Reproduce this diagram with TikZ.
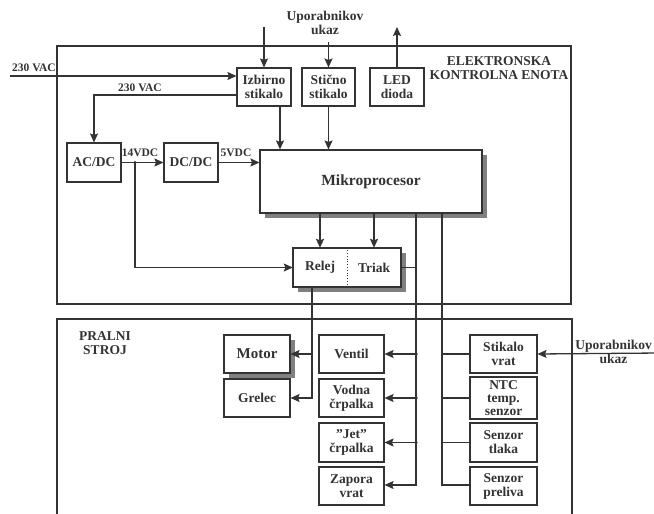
\documentclass[tikz,border=0pt]{standalone}
\usepackage{fontspec}
\setmainfont{Liberation Serif}
\usetikzlibrary{arrows.meta,shadows}
\definecolor{ink}{gray}{0.2}
\tikzset{
  lab/.style={font=\bfseries\fontsize{13.5}{14}\selectfont,text=ink,align=center,inner sep=0pt},
  small/.style={font=\bfseries\fontsize{11.5}{12}\selectfont,text=ink,inner sep=0pt},
  box/.style={lab,draw=ink,line width=1.1pt,fill=white,minimum width=#1,minimum height=38pt},
  box/.default=54pt,
  shd/.style={drop shadow={shadow xshift=5pt,shadow yshift=-5pt,fill=black!50,opacity=1}},
  wire/.style={draw=ink,line width=1.3pt},
  arr/.style={wire,-{Stealth[length=9pt,width=8pt,inset=1.5pt]}},
  frame/.style={draw=ink,line width=1.5pt},
  dot/.style={circle,fill=ink,inner sep=0pt,minimum size=3.5pt}
}
\begin{document}
\begin{tikzpicture}[x=1pt,y=-1pt]
\useasboundingbox (0,0) rectangle (654,514);
% frames
\draw[frame] (57,46) rectangle (571,304);
\draw[frame] (57,520) -- (57,319) -- (572,319) -- (572,520);
\node[lab] (elk) at (499,68) {ELEKTRONSKA\\KONTROLNA ENOTA};
\node[lab] (ps) at (105,343) {PRALNI\\STROJ};
% top boxes
\node[box] (izb) at (264,87) {Izbirno\\stikalo};
\node[box=53pt] (stc) at (328.5,87) {Stično\\stikalo};
\node[box] (led) at (397,87) {LED\\dioda};
\node[box=54pt,minimum height=39pt] (acdc) at (94,162.5) {AC/DC};
\node[box=54pt,minimum height=39pt] (dcdc) at (191,162.5) {DC/DC};
\node[box=222pt,minimum height=63pt,shd,font=\bfseries\fontsize{15.5}{16}\selectfont] (mikro) at (371,181.5) {Mikroprocesor};
% relej / triak
\node[draw=ink,line width=1.1pt,fill=white,minimum width=108pt,minimum height=39pt,shd] (rt) at (347,267.5) {};
\node[lab,minimum width=54pt,minimum height=39pt] (relej) at (320,267.5) {Relej};
\node[lab,minimum width=54pt,minimum height=39pt] (triak) at (374,267.5) {Triak};
\draw[ink,line width=0.8pt,dotted] (rt.north) -- (rt.south);
% top labels
\node[lab] (uuk) at (325,23) {Uporabnikov\\ukaz};
\coordinate (u1) at (264,27);
\coordinate (u2) at (328.5,42);
\coordinate (ledout) at (397,27);
\coordinate (vacin) at (10,76);
\node[small,anchor=south west] (vac1) at (12,72) {230 VAC};
\node[small] (vac2) at (140,88) {230 VAC};
\node[small] (v14) at (140,153) {14VDC};
\node[small] (v5) at (236,153) {5VDC};
% connectors top
\draw[arr] (u1) -- (izb.north);
\draw[arr] (u2) -- (stc.north);
\draw[arr] (led.north) -- (ledout);
\draw[arr] (vacin) -- (vacin -| izb.west);
\draw[arr] ([yshift=-8pt]izb.west) -| (acdc.north);
\draw[arr] (acdc) -- (dcdc);
\draw[arr] (dcdc.east) -- (dcdc.east -| mikro.west);
\coordinate (j14) at (135,162.5);
\node[dot] (jd) at (j14) {};
\draw[arr] (j14) |- (relej.west);
\draw[arr] ([xshift=16pt]izb.south) -- ([xshift=16pt]izb.south |- mikro.north);
\draw[arr] (stc.south) -- (stc.south |- mikro.north);
\draw[arr] (mikro.south -| relej.north) -- (relej.north);
\draw[arr] (mikro.south -| triak.north) -- (triak.north);
% bottom boxes
\node[box=66pt,shd,font=\bfseries\fontsize{15}{16}\selectfont] (motor) at (257,354) {Motor};
\node[box=66pt] (grelec) at (257,398) {Grelec};
\node[box=65pt] (ventil) at (351.5,354) {Ventil};
\node[box=65pt] (vodna) at (351.5,398) {Vodna\\črpalka};
\node[box=65pt,minimum height=39pt] (jet) at (351.5,442.5) {\symbol{34}Jet\symbol{34}\\črpalka};
\node[box=65pt] (zapora) at (351.5,486) {Zapora\\vrat};
\node[box=67pt] (stik) at (503.5,354) {Stikalo\\vrat};
\node[box=67pt,minimum height=42pt,font=\bfseries\fontsize{13.5}{13}\selectfont] (ntc) at (503.5,398) {NTC\\temp.\\senzor};
\node[box=67pt,minimum height=39pt] (tlak) at (503.5,442.5) {Senzor\\tlaka};
\node[box=67pt] (prel) at (503.5,486) {Senzor\\preliva};
% buses
\coordinate (b1) at (416,485);
\coordinate (b2) at (442,485);
\coordinate (r1) at (312,398);
\draw[arr] (mikro.south -| b1) -- (b1) -- (b1 -| zapora.east);
\draw[wire] (mikro.south -| b2) -- (b2) -- (b2 -| prel.west);
\draw[wire] (triak.east) -- (triak.east -| b1);
\foreach \n in {ventil,vodna,jet}{
  \draw[arr] (\n.east -| b1) -- (\n.east);
  \node[dot] at (\n.east -| b1) {};
}
\foreach \n in {stik,ntc,tlak}{
  \draw[wire] (\n.west -| b2) -- (\n.west);
}
\draw[arr] (relej.south -| r1) -- (r1) -- (r1 -| grelec.east);
\draw[arr] (motor.east -| r1) -- (motor.east);
% user input right
\coordinate (uin) at (660,353);
\draw[arr] (uin) -- (stik.east);
\node[lab,anchor=east] (uuk2) at (652,352) {Uporabnikov\\ukaz};
\end{tikzpicture}
\end{document}
